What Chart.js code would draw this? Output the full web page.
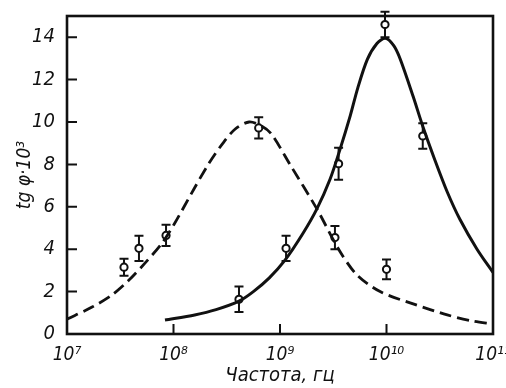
<!DOCTYPE html>
<html>
<head>
<meta charset="utf-8">
<script src="https://cdn.jsdelivr.net/npm/chart.js@4.4.1/dist/chart.umd.min.js"></script>
<style>
  html, body { margin: 0; padding: 0; background: #fff; }
  #wrap { width: 506px; height: 388px; position: relative; }
</style>
</head>
<body>
<div id="wrap"><canvas id="chart" width="506" height="388"></canvas></div>
<script>
// Dashed curve (low-frequency peak), frequency in Hz
const dashFreq = [1e7, 1.72e7, 2.63e7, 3.8e7, 5.37e7, 7.76e7, 1.02e8, 1.58e8, 2.14e8, 2.88e8, 3.8e8, 5.13e8,
                  6.76e8, 8.32e8, 1.24e9, 2.22e9, 3.55e9, 5.25e9, 8.71e9, 1.78e10, 3.72e10, 6.31e10, 1e11];
const dashTan  = [0.7, 1.27, 1.83, 2.53, 3.33, 4.27, 5.2, 6.9, 8.03, 8.97, 9.67, 10.0,
                  9.8, 9.43, 8.0, 5.9, 4.0, 2.8, 2.0, 1.42, 0.9, 0.62, 0.47];

// Solid curve (high-frequency peak)
const solidFreq = [8.32e7, 1.58e8, 2.51e8, 4.12e8, 5.62e8, 7.94e8, 1.11e9, 1.64e9, 2.22e9, 2.95e9, 3.63e9, 4.57e9,
                   5.37e9, 6.61e9, 8.13e9, 9.77e9, 1.17e10, 1.35e10, 1.78e10, 2.19e10, 2.85e10, 3.72e10, 4.9e10, 7.08e10, 1e11];
const solidTan  = [0.66, 0.9, 1.15, 1.55, 2.0, 2.65, 3.47, 4.74, 5.9, 7.3, 8.65, 10.3,
                   11.6, 12.95, 13.7, 13.95, 13.6, 12.95, 11.2, 9.8, 8.2, 6.7, 5.4, 4.0, 2.9];

// Measured points with error bars
const pointFreq = [3.43e7, 4.74e7, 8.51e7, 6.31e8, 4.12e8, 1.14e9, 3.28e9, 3.55e9, 9.68e9, 1e10, 2.19e10];
const pointTan  = [3.15, 4.04, 4.65, 9.72, 1.64, 4.04, 4.55, 8.03, 14.6, 3.05, 9.34];
const pointErr  = [0.4, 0.6, 0.5, 0.5, 0.6, 0.6, 0.55, 0.75, 0.6, 0.47, 0.6];

const xTicks = [1e7, 1e8, 1e9, 1e10, 1e11];
const xTickLabels = ['10\u2077', '10\u2078', '10\u2079', '10\u00b9\u2070', '10\u00b9\u00b9'];
const yTicks = [0, 2, 4, 6, 8, 10, 12, 14];

const FONT = '"DejaVu Sans Condensed", "Liberation Sans Narrow", "Liberation Sans", sans-serif';

const toXY = (xs, ys) => xs.map((x, i) => ({ x: x, y: ys[i] }));

// frame, inward ticks and error bars
const framePlugin = {
    id: 'frame',
    afterDatasetsDraw(chart) {
        const ctx = chart.ctx;
        const a = chart.chartArea;
        const xs = chart.scales.x, ys = chart.scales.y;
        ctx.save();
        ctx.strokeStyle = '#111';
        ctx.lineWidth = 2;
        // error bars
        pointFreq.forEach((f, i) => {
            const px = xs.getPixelForValue(f);
            const top = ys.getPixelForValue(pointTan[i] + pointErr[i]);
            const bot = ys.getPixelForValue(pointTan[i] - pointErr[i]);
            const cy = ys.getPixelForValue(pointTan[i]);
            ctx.beginPath();
            ctx.moveTo(px, top); ctx.lineTo(px, cy - 3.5);
            ctx.moveTo(px, cy + 3.5); ctx.lineTo(px, bot);
            ctx.moveTo(px - 4.5, top); ctx.lineTo(px + 4.5, top);
            ctx.moveTo(px - 4.5, bot); ctx.lineTo(px + 4.5, bot);
            ctx.stroke();
        });
        // box
        ctx.lineWidth = 2.6;
        ctx.strokeRect(a.left, a.top, a.right - a.left, a.bottom - a.top);
        // inward ticks
        ctx.lineWidth = 2;
        ctx.beginPath();
        yTicks.forEach(v => {
            if (v === 0) return;
            const py = ys.getPixelForValue(v);
            ctx.moveTo(a.left, py); ctx.lineTo(a.left + 10, py);
        });
        xTicks.forEach(v => {
            if (v === xTicks[0] || v === xTicks[xTicks.length - 1]) return;
            const px = xs.getPixelForValue(v);
            ctx.moveTo(px, a.bottom); ctx.lineTo(px, a.bottom - 10);
        });
        ctx.stroke();
        ctx.restore();
    }
};

new Chart(document.getElementById('chart'), {
    type: 'scatter',
    data: {
        datasets: [
            {
                data: toXY(dashFreq, dashTan),
                showLine: true,
                borderColor: '#111',
                borderWidth: 2.8,
                borderDash: [12, 6],
                pointRadius: 0,
                tension: 0.3,
                fill: false
            },
            {
                data: toXY(solidFreq, solidTan),
                showLine: true,
                borderColor: '#111',
                borderWidth: 3,
                pointRadius: 0,
                tension: 0.3,
                fill: false
            },
            {
                data: toXY(pointFreq, pointTan),
                showLine: false,
                pointRadius: 3.6,
                pointBackgroundColor: '#fff',
                pointBorderColor: '#111',
                pointBorderWidth: 2,
                clip: false
            }
        ]
    },
    options: {
        responsive: false,
        animation: false,
        devicePixelRatio: 1,
        layout: { padding: { top: 15, right: 13, left: 14, bottom: 0 } },
        plugins: {
            legend: { display: false },
            tooltip: { enabled: false }
        },
        scales: {
            x: {
                type: 'logarithmic',
                min: 1e7,
                max: 1e11,
                afterBuildTicks: (scale) => { scale.ticks = xTicks.map(v => ({ value: v })); },
                afterFit: (scale) => { scale.height = 54; scale.paddingLeft = 0; scale.paddingRight = 0; },
                border: { display: false },
                grid: { display: false },
                ticks: {
                    color: '#111',
                    padding: 2,
                    maxRotation: 0,
                    autoSkip: false,
                    font: { family: FONT, size: 19, style: 'italic' },
                    callback: (v) => {
                        const i = xTicks.indexOf(v);
                        return i >= 0 ? xTickLabels[i] : '';
                    }
                },
                title: {
                    display: true,
                    text: 'Частота, гц',
                    color: '#111',
                    padding: { top: 0, bottom: 0 },
                    font: { family: FONT, size: 20, style: 'italic' }
                }
            },
            y: {
                min: 0,
                max: 15,
                afterBuildTicks: (scale) => { scale.ticks = yTicks.map(v => ({ value: v })); },
                afterFit: (scale) => { scale.width = 53; },
                border: { display: false },
                grid: { display: false },
                ticks: {
                    color: '#111',
                    padding: 4,
                    font: { family: FONT, size: 20, style: 'italic' }
                },
                title: {
                    display: true,
                    text: 'tg \u03c6\u00b710\u00b3',
                    color: '#111',
                    padding: { top: 0, bottom: 0 },
                    font: { family: FONT, size: 19, style: 'italic' }
                }
            }
        }
    },
    plugins: [framePlugin]
});
</script>
</body>
</html>
